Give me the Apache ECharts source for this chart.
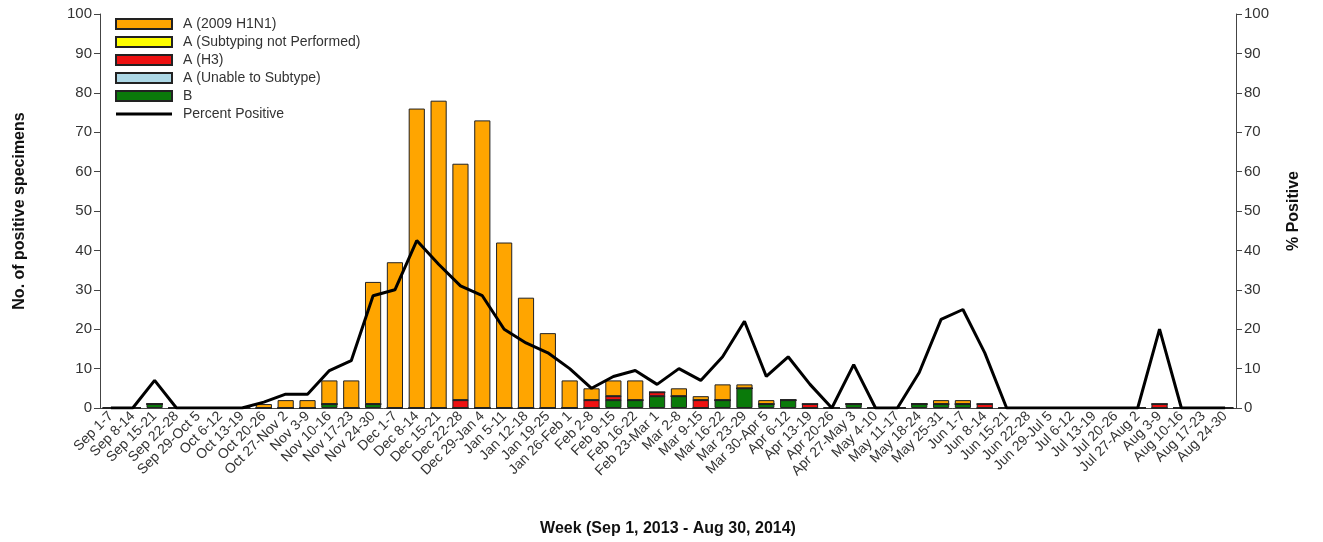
<!DOCTYPE html>
<html>
<head>
<meta charset="utf-8">
<script src="https://cdn.jsdelivr.net/npm/echarts@6/dist/echarts.min.js"></script>
<style>
  html, body { margin: 0; padding: 0; background: #fff; }
  #chart { width: 1323px; height: 542px; }
</style>
</head>
<body>
<div id="chart"></div>
<script>
const weeks = ['Sep 1-7', 'Sep 8-14', 'Sep 15-21', 'Sep 22-28', 'Sep 29-Oct 5', 'Oct 6-12', 'Oct 13-19',
  'Oct 20-26', 'Oct 27-Nov 2', 'Nov 3-9', 'Nov 10-16', 'Nov 17-23', 'Nov 24-30', 'Dec 1-7', 'Dec 8-14',
  'Dec 15-21', 'Dec 22-28', 'Dec 29-Jan 4', 'Jan 5-11', 'Jan 12-18', 'Jan 19-25', 'Jan 26-Feb 1',
  'Feb 2-8', 'Feb 9-15', 'Feb 16-22', 'Feb 23-Mar 1', 'Mar 2-8', 'Mar 9-15', 'Mar 16-22', 'Mar 23-29',
  'Mar 30-Apr 5', 'Apr 6-12', 'Apr 13-19', 'Apr 20-26', 'Apr 27-May 3', 'May 4-10', 'May 11-17',
  'May 18-24', 'May 25-31', 'Jun 1-7', 'Jun 8-14', 'Jun 15-21', 'Jun 22-28', 'Jun 29-Jul 5', 'Jul 6-12',
  'Jul 13-19', 'Jul 20-26', 'Jul 27-Aug 2', 'Aug 3-9', 'Aug 10-16', 'Aug 17-23', 'Aug 24-30'];

const h1n1 = [0, 0, 0, 0, 0, 0, 0, 1, 2, 2, 6, 7, 31, 37, 76, 78, 60, 73, 42, 28, 19, 7,
  3, 4, 5, 0, 2, 1, 4, 1, 1, 0, 0, 0, 0, 0, 0, 0, 1, 1, 0, 0, 0, 0, 0, 0, 0, 0, 0, 0, 0, 0];
const notSubtyped = weeks.map(() => 0);
const h3 = [0, 0, 0, 0, 0, 0, 0, 0, 0, 0, 0, 0, 0, 0, 0, 0, 2, 0, 0, 0, 0, 0,
  2, 1, 0, 1, 0, 2, 0, 0, 0, 0, 1, 0, 0, 0, 0, 0, 0, 0, 1, 0, 0, 0, 0, 0, 0, 0, 1, 0, 0, 0];
const unableSubtype = weeks.map(() => 0);
const fluB = [0, 0, 1, 0, 0, 0, 0, 0, 0, 0, 1, 0, 1, 0, 0, 0, 0, 0, 0, 0, 0, 0,
  0, 2, 2, 3, 3, 0, 2, 5, 1, 2, 0, 0, 1, 0, 0, 1, 1, 1, 0, 0, 0, 0, 0, 0, 0, 0, 0, 0, 0, 0];
const pctPositive = [0, 0, 7, 0, 0, 0, 0, 1.5, 3.5, 3.5, 9.5, 12, 28.5, 30, 42.5, 36.5, 31, 28.5, 20, 16.5,
  14, 10, 5, 8, 9.5, 6, 10, 7, 13, 22, 8, 13, 6, 0, 11, 0, 0, 9, 22.5, 25, 14, 0,
  0, 0, 0, 0, 0, 0, 20, 0, 0, 0];

const myChart = echarts.init(document.querySelector('#chart'));

const barStyle = color => ({ color, borderColor: '#222', borderWidth: 1 });
const txt = { fontFamily: 'Liberation Sans, Arial', color: '#333' };

const option = {
  animation: false,
  textStyle: { fontFamily: 'Liberation Sans, Arial' },
  grid: { left: 100, right: 87, top: 14, bottom: 131 },
  legend: {
    orient: 'vertical',
    left: 110,
    top: 12,
    itemWidth: 56,
    itemHeight: 10,
    itemGap: 4,
    textStyle: { fontSize: 14, color: '#333', padding: [0, 0, 0, 6] },
    data: [
      { name: 'A (2009 H1N1)', icon: 'rect' },
      { name: 'A (Subtyping not Performed)', icon: 'rect' },
      { name: 'A (H3)', icon: 'rect' },
      { name: 'A (Unable to Subtype)', icon: 'rect' },
      { name: 'B', icon: 'rect' },
      { name: 'Percent Positive', icon: 'path://M0,4L56,4L56,7L0,7Z' }
    ]
  },
  xAxis: {
    type: 'category',
    data: weeks,
    name: 'Week (Sep 1, 2013 - Aug 30, 2014)',
    nameLocation: 'middle',
    nameGap: 113,
    nameTextStyle: { fontSize: 16, fontWeight: 'bold', color: '#111' },
    axisLine: { lineStyle: { color: '#444' } },
    axisTick: { show: false },
    axisLabel: { ...txt, rotate: 45, fontSize: 14, interval: 0, margin: 6 }
  },
  yAxis: [
    {
      type: 'value', min: 0, max: 100, interval: 10,
      name: 'No. of positive specimens',
      nameLocation: 'middle', nameGap: 72,
      nameTextStyle: { fontSize: 16, fontWeight: 'bold', color: '#111' },
      axisLine: { show: true, lineStyle: { color: '#444' } },
      axisTick: { show: true, length: 6 },
      splitLine: { show: false },
      axisLabel: { ...txt, fontSize: 15 }
    },
    {
      type: 'value', min: 0, max: 100, interval: 10,
      name: '% Positive',
      nameLocation: 'middle', nameGap: 50, nameRotate: 90,
      nameTextStyle: { fontSize: 16, fontWeight: 'bold', color: '#111' },
      axisLine: { show: true, lineStyle: { color: '#444' } },
      axisTick: { show: true, length: 6 },
      splitLine: { show: false },
      axisLabel: { ...txt, fontSize: 15 }
    }
  ],
  series: [
    { name: 'B', type: 'bar', stack: 'f', data: fluB, itemStyle: barStyle('#0a7a0a'), barCategoryGap: '26%' },
    { name: 'A (Unable to Subtype)', type: 'bar', stack: 'f', data: unableSubtype, itemStyle: barStyle('#add8e6') },
    { name: 'A (H3)', type: 'bar', stack: 'f', data: h3, itemStyle: barStyle('#ee1111') },
    { name: 'A (Subtyping not Performed)', type: 'bar', stack: 'f', data: notSubtyped, itemStyle: barStyle('#ffff00') },
    { name: 'A (2009 H1N1)', type: 'bar', stack: 'f', data: h1n1, itemStyle: barStyle('#ffa500') },
    {
      name: 'Percent Positive', type: 'line', yAxisIndex: 1, data: pctPositive,
      symbol: 'none', lineStyle: { color: '#000', width: 3 }, itemStyle: { color: '#000' }, z: 5
    }
  ]
};

myChart.setOption(option);
</script>
</body>
</html>
